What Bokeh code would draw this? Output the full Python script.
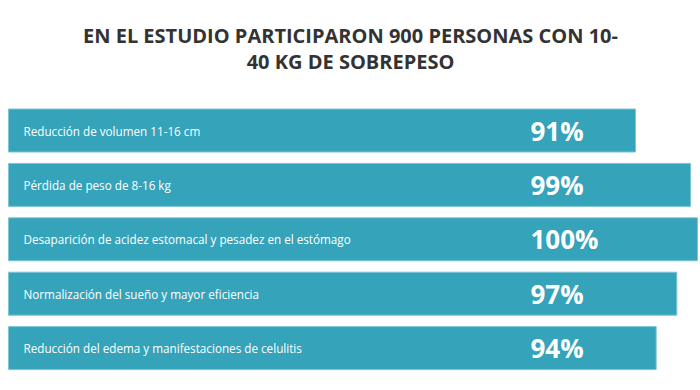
from bokeh.plotting import figure
from bokeh.models import Range1d, ColumnDataSource
from bokeh.core.properties import value
from bokeh.embed import file_html
from bokeh.resources import INLINE

title_lines = ["EN EL ESTUDIO PARTICIPARON 900 PERSONAS CON 10-", "40 KG DE SOBREPESO"]
labels = [
    "Reducción de volumen 11-16 cm",
    "Pérdida de peso de 8-16 kg",
    "Desaparición de acidez estomacal y pesadez en el estómago",
    "Normalización del sueño y mayor eficiencia",
    "Reducción del edema y manifestaciones de celulitis",
]
percents = [91, 99, 100, 97, 94]

idx = list(range(len(labels)))
src = ColumnDataSource(dict(
    y=idx,
    val=percents,
    label=labels,
    pct=[f"{v}%" for v in percents],
))

W, H = 700, 390
px_per_x = 6.89
x0_px = 8
row_px = 54.4
row0_px = 130

p = figure(width=W, height=H, output_backend="svg", toolbar_location=None,
           x_range=Range1d(-x0_px / px_per_x, (W - x0_px) / px_per_x),
           y_range=Range1d((H - row0_px) / row_px, -row0_px / row_px),
           min_border=0, outline_line_color=None, background_fill_color="white")
p.axis.visible = False
p.grid.visible = False

BAR = "#35a3ba"
p.hbar(y="y", left=0, right="val", height=43 / row_px, source=src,
       fill_color=BAR, line_color="#7cc6d6", line_width=1)

p.text(x=15 / px_per_x, y="y", text="label", source=src,
       text_font=value("Open Sans"), text_font_size="11.7px", text_color="white",
       text_baseline="middle", text_align="left")
p.text(x=(530 - x0_px) / px_per_x, y="y", text="pct", source=src,
       text_font=value("Open Sans"), text_font_style="bold", text_font_size="26px",
       text_color="white", text_baseline="middle", text_align="left")

title_y = [(35 - row0_px) / row_px, (61 - row0_px) / row_px]
tx = ((W / 2) - x0_px) / px_per_x
p.text(x=[tx, tx], y=title_y, text=title_lines,
       text_font=value("Open Sans"), text_font_style="bold", text_font_size="20px",
       text_color="#333333", text_baseline="middle", text_align="center")

open("out.html", "w").write(file_html(p, INLINE))
